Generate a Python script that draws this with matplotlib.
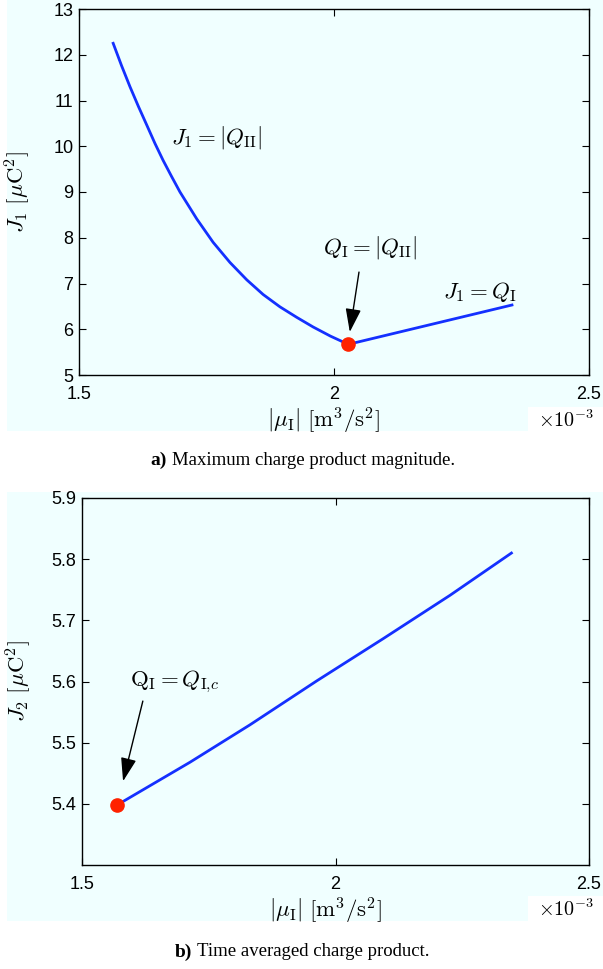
import matplotlib
matplotlib.use("Agg")
import matplotlib.pyplot as plt
from matplotlib.patches import Rectangle

plt.rcParams['mathtext.fontset'] = 'cm'
plt.rcParams['font.family'] = ['Liberation Sans', 'DejaVu Sans']

# panel a: maximum charge product magnitude (mu in 1e-3 m^3/s^2, J in uC^2)
mu_a = [1.567, 1.5835, 1.600, 1.6165, 1.633, 1.649, 1.665, 1.6815, 1.698, 1.731,
        1.763, 1.796, 1.829, 1.861, 1.894, 1.927, 1.959, 1.993, 2.028, 2.349]
J1 = [12.25, 11.76, 11.30, 10.87, 10.46, 10.06, 9.69, 9.34, 9.00, 8.41,
      7.90, 7.46, 7.08, 6.76, 6.49, 6.26, 6.05, 5.85, 5.67, 6.53]
switch_a = (2.028, 5.67)

# panel b: time averaged charge product
mu_b = [1.569, 1.713, 1.831, 1.963, 2.094, 2.226, 2.347]
J2 = [5.398, 5.468, 5.529, 5.601, 5.670, 5.741, 5.810]
start_b = (1.569, 5.398)

x_ticks = [1.5, 2, 2.5]
x_ticklabels = ['1.5', '2', '2.5']
ya_ticks = [5, 6, 7, 8, 9, 10, 11, 12, 13]
yb_ticks = [5.4, 5.5, 5.6, 5.7, 5.8, 5.9]

cyan = '#f0ffff'
blue = '#1430ff'
red = '#ff2200'

W, H = 603, 969
fig = plt.figure(figsize=(W / 100, H / 100), dpi=100)
fig.patch.set_facecolor('white')


def px_rect(x0, y0, x1, y1, color):
    # rectangle given in pixel coords, origin top-left
    fig.patches.append(Rectangle((x0 / W, 1 - y1 / H), (x1 - x0) / W, (y1 - y0) / H,
                                 transform=fig.transFigure, facecolor=color,
                                 edgecolor='none', zorder=-10))


px_rect(7, 0, 603, 431, cyan)
px_rect(528, 407, 603, 431, 'white')
px_rect(7, 492, 603, 921, cyan)
px_rect(528, 896, 603, 921, 'white')

ax1 = fig.add_axes([79 / W, 1 - 375 / H, 510 / W, 366 / H])
ax2 = fig.add_axes([82 / W, 1 - 865 / H, 507 / W, 367 / H])

for ax in (ax1, ax2):
    ax.set_facecolor(cyan)
    ax.set_xlim(1.5, 2.5)
    ax.set_xticks(x_ticks)
    ax.set_xticklabels(x_ticklabels)
    ax.tick_params(direction='in', top=True, right=True, length=5, width=0.8,
                   labelsize=13, pad=4)
    ax.tick_params(axis='x', pad=8)
    for s in ax.spines.values():
        s.set_linewidth(1.0)

lab_fs = 16.5
ann_fs = 16.5

# panel a
ax1.plot(mu_a, J1, color=blue, lw=2)
ax1.plot(*switch_a, 'o', color=red, ms=9.5, zorder=5)
ax1.set_ylim(5, 13)
ax1.set_yticks(ya_ticks)
ax1.set_ylabel(r'$J_1\ [\mu\mathrm{C}^2]$', fontsize=lab_fs)
ax1.set_xlabel(r'$|\mu_{\mathrm{I}}|\ [\mathrm{m}^3/\mathrm{s}^2]$', fontsize=lab_fs)
ax1.yaxis.set_label_coords(-0.09, 0.5)
ax1.xaxis.set_label_coords(0.48, -0.085)
ax1.text(1.769, 10.20, r'$J_1 = |Q_{\mathrm{II}}|$', fontsize=ann_fs, ha='center', va='center')
ax1.text(2.071, 7.78, r'$Q_{\mathrm{I}} = |Q_{\mathrm{II}}|$', fontsize=ann_fs, ha='center', va='center')
ax1.text(2.286, 6.81, r'$J_1 = Q_{\mathrm{I}}$', fontsize=ann_fs, ha='center', va='center')
ax1.annotate('', xy=(2.031, 5.94), xytext=(2.049, 7.25),
             arrowprops=dict(arrowstyle='-|>,head_length=0.9,head_width=0.3', color='black',
                             lw=1, mutation_scale=16, shrinkA=0, shrinkB=0))

# panel b
ax2.plot(mu_b, J2, color=blue, lw=2)
ax2.plot(*start_b, 'o', color=red, ms=9.5, zorder=5)
ax2.set_ylim(5.3, 5.9)
ax2.set_yticks(yb_ticks)
ax2.set_ylabel(r'$J_2\ [\mu\mathrm{C}^2]$', fontsize=lab_fs)
ax2.set_xlabel(r'$|\mu_{\mathrm{I}}|\ [\mathrm{m}^3/\mathrm{s}^2]$', fontsize=lab_fs)
ax2.yaxis.set_label_coords(-0.095, 0.5)
ax2.xaxis.set_label_coords(0.48, -0.085)
ax2.text(1.683, 5.600, r'$\mathrm{Q_I} = Q_{\mathrm{I},\!c}$', fontsize=ann_fs, ha='center', va='center')
ax2.annotate('', xy=(1.581, 5.437), xytext=(1.620, 5.568),
             arrowprops=dict(arrowstyle='-|>,head_length=0.9,head_width=0.3', color='black',
                             lw=1, mutation_scale=16, shrinkA=0, shrinkB=0))

# multiplier text below the right end of each axis
for y in (420, 909):
    fig.text(566 / W, 1 - y / H, r'$\times10^{-3}$', fontsize=14.5, ha='center', va='center')

# captions
for y, x_tag, tag, cap in ((460, 150, 'a)', 'Maximum charge product magnitude.'),
                           (952, 175, 'b)', 'Time averaged charge product.')):
    fig.text(x_tag / W, 1 - y / H, tag, fontsize=14, fontweight='bold',
             family='Liberation Serif', ha='left', va='center')
    fig.text((x_tag + 22) / W, 1 - y / H, cap, fontsize=13.5, family='Liberation Serif',
             ha='left', va='center')

fig.savefig('out.png', dpi=100)
